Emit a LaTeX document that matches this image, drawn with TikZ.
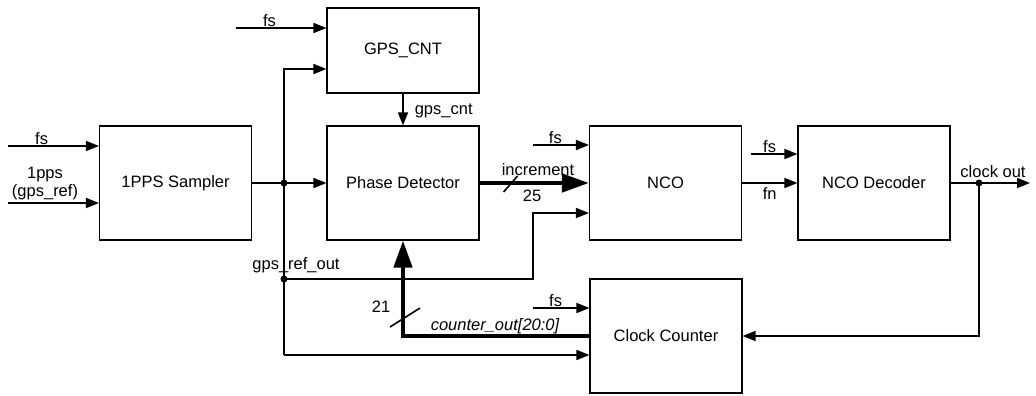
\documentclass[tikz,border=0pt]{standalone}
\usepackage{fontspec}
\setmainfont{Liberation Sans}
\usetikzlibrary{positioning,
                calc,
                arrows.meta}

\begin{document}
\begin{tikzpicture}[x=1pt,y=-1pt]

\tikzset{
blockunit/.style={
draw=black,
line width=1.1pt,
minimum width=152pt,
minimum height=114pt,
inner sep=0pt,
font=\fontsize{16.5}{18}\selectfont
},
siglabel/.style={
align=center,
inner sep=1pt,
font=\fontsize{16.5}{18}\selectfont
},
sigwire/.style={
line width=1.6pt,
-{Triangle[length=13pt,width=10pt]}
},
buswire/.style={
line width=4.5pt,
-{Triangle[length=27pt,width=18pt]}
},
plainwire/.style={
line width=1.6pt
},
tapdot/.style={
circle,
fill=black,
inner sep=0pt,
minimum size=7pt
}
}

\useasboundingbox (0,0) rectangle (1036,396);

%--------------------------------------------------
% BLOCKS
%--------------------------------------------------

\node[blockunit] (sampler) at (175.5,183) {1PPS Sampler};

\node[blockunit,minimum height=85pt] (gpscnt) at (403,50.5) {GPS\_CNT};

\node[blockunit] (phasedet) at (403,183) {Phase Detector};

\node[blockunit] (nco) at (665.5,183) {NCO};

\node[blockunit] (ncodec) at (874,183) {NCO Decoder};

\node[blockunit] (clkcnt) at (666,336) {Clock Counter};

%--------------------------------------------------
% INPUTS OF THE SAMPLER
%--------------------------------------------------

\coordinate (fsin1) at (8,146);
\draw[sigwire] (fsin1) -- (fsin1 -| sampler.west)
node[siglabel,pos=0.37,above] {fs};

\coordinate (ppsin) at (8,203);
\draw[sigwire] (ppsin) -- (ppsin -| sampler.west);
\node[siglabel] (ppslabel) at (45,184) {1pps\\(gps\_ref)};

%--------------------------------------------------
% GPS_REF_OUT DISTRIBUTION
%--------------------------------------------------

\coordinate (jsam) at (284,183);
\coordinate (jtop) at (284,69);
\coordinate (jref) at (284,279);
\coordinate (jbot) at (284,355);
\coordinate (ncoref) at (533,279);

\draw[plainwire] (sampler.east) -- (jsam);
\draw[sigwire] (jsam) -- (phasedet.west);
\draw[sigwire] (jbot) -- (jtop) -- (jtop -| gpscnt.west);
\draw[sigwire] (jbot) -- (jbot -| clkcnt.west);
\draw[sigwire] (jref) -- (ncoref) -- ++(0,-66) -- (nco.west |- 0,213);

\node[tapdot] (dotsam) at (jsam) {};
\node[tapdot] (dotref) at (jref) {};
\node[siglabel] (reflabel) at (296,265) {gps\_ref\_out};

%--------------------------------------------------
% GPS_CNT AND PHASE DETECTOR
%--------------------------------------------------

\coordinate (fsin2) at (236,28);
\draw[sigwire] (fsin2) -- (fsin2 -| gpscnt.west)
node[siglabel,pos=0.37,above] {fs};

\draw[sigwire] (gpscnt.south) -- (phasedet.north)
node[siglabel,pos=0.55,right=10pt] {gps\_cnt};

\draw[buswire] (phasedet.east) -- (nco.west);
\draw[plainwire] ($(phasedet.east)+(24,9)$) -- ++(14,-16);
\node[siglabel] (inclabel) at (538,170) {increment};
\node[siglabel] (incwidth) at (532,196) {25};

%--------------------------------------------------
% NCO AND DECODER
%--------------------------------------------------

\coordinate (fsin3) at (533,145);
\draw[sigwire] (fsin3) -- (fsin3 -| nco.west)
node[siglabel,pos=0.4,above] {fs};

\coordinate (fsin4) at (751,154);
\draw[sigwire] (fsin4) -- (fsin4 -| ncodec.west)
node[siglabel,pos=0.4,above] {fs};

\draw[sigwire] (nco.east) -- (ncodec.west)
node[siglabel,midway,below=3pt] {fn};

\coordinate (clkout) at (1030,183);
\coordinate (jout) at (979,183);
\draw[sigwire] (ncodec.east) -- (clkout);
\node[tapdot] (dotout) at (jout) {};
\node[siglabel] (outlabel) at (993,172) {clock out};

%--------------------------------------------------
% CLOCK COUNTER
%--------------------------------------------------

\coordinate (fsin5) at (533,308);
\draw[sigwire] (fsin5) -- (fsin5 -| clkcnt.west)
node[siglabel,pos=0.4,above] {fs};

\draw[sigwire] (jout) -- (jout |- clkcnt.east) -- (clkcnt.east);

\draw[buswire] (clkcnt.west) -- (clkcnt.west -| phasedet.south) -- (phasedet.south);
\draw[plainwire] (390,327) -- (420,308);
\node[siglabel] (cntwidth) at (381,307) {21};
\node[siglabel] (cntlabel) at (495,326) {\itshape counter\_out[20:0]};

\end{tikzpicture}
\end{document}
